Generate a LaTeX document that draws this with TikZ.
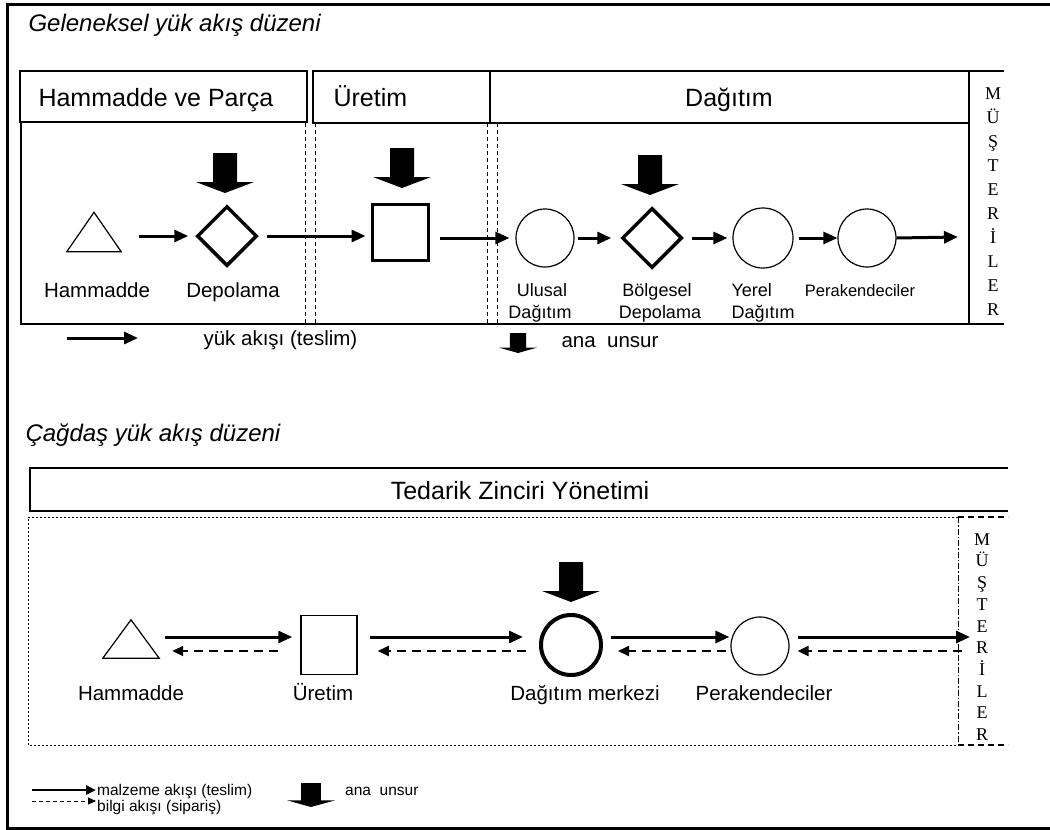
\documentclass[tikz,border=0pt]{standalone}
\usepackage{fontspec}
\setmainfont{Liberation Sans}
\newfontfamily\musfont{Liberation Serif}
\usetikzlibrary{arrows.meta,shapes.geometric}
\tikzset{
	flow/.style={line width=3pt,-{Triangle[length=14pt,width=12pt]}},
	info/.style={line width=2pt,dash pattern=on 9pt off 6pt,-{Triangle[length=11pt,width=10pt]}},
	boxline/.style={line width=1.4pt},
	sep/.style={line width=1pt,dash pattern=on 4pt off 3pt},
	tribox/.style={minimum width=54pt,minimum height=39pt,inner sep=0pt},
	depot/.style={diamond,draw,line width=3.5pt,minimum size=60pt,inner sep=0pt},
	plant/.style={rectangle,draw,minimum size=56pt,inner sep=0pt},
	stage/.style={circle,draw,line width=1.2pt,minimum size=58pt,inner sep=0pt},
	hdr/.style={font=\fontsize{25}{28}\selectfont,anchor=base},
	ttl/.style={font=\fontsize{24}{28}\selectfont\itshape,anchor=base west},
	lbl/.style={font=\fontsize{20.5}{23}\selectfont,anchor=base},
	slbl/.style={font=\fontsize{18}{22}\selectfont,anchor=base},
	leg/.style={font=\fontsize{15.5}{18}\selectfont,anchor=base west,inner sep=1pt},
	mus/.style={font=\musfont\fontsize{18}{24}\selectfont,align=center},
	pics/keyarrow/.style={code={\fill (-12,0) -- (12,0) -- (12,29) -- (29,29) -- (0,40) -- (-29,29) -- (-12,29) -- cycle ;}}
}
\begin{document}
\begin{tikzpicture}[x=1pt,y=-1pt]
	\useasboundingbox (0,0) rectangle (1050,830) ;
	\draw[line width=3pt] (1050,4) -- (7,4) -- (7,828) -- (1050,828) ;

	% geleneksel
	\node (geltitle)[ttl] at (25,31) {Geleneksel yük akış düzeni} ;
	\draw[boxline] (20,71) rectangle (307,122) ;
	\draw[boxline] (313,71) rectangle (969,123) ;
	\draw[boxline] (490,71) -- (490,123) ;
	\draw[boxline] (21,122) -- (21,324) -- (1004,324) ;
	\draw[boxline] (969,71) -- (1004,71) ;
	\draw[boxline] (969,123) -- (969,324) ;
	\foreach \xx in {305,315,487,497}
		\draw[sep] (\xx,123) -- (\xx,324) ;
	\node (hham)[hdr,anchor=base west] at (35,106) {Hammadde ve Parça} ;
	\node (hure)[hdr,anchor=base west] at (330,106) {Üretim} ;
	\node (hdag)[hdr] at (729,106) {Dağıtım} ;
	\node (mus1)[mus] at (993,202) {M\\Ü\\Ş\\T\\E\\R\\İ\\L\\E\\R} ;

	\node (tri1)[tribox] at (94,232) {} ;
	\draw[line width=1.2pt] (tri1.north) -- (tri1.south east) -- (tri1.south west) -- cycle ;
	\node (dep1)[depot] at (227,236) {} ;
	\node (ure1)[plant,line width=3pt] at (400,232) {} ;
	\node (ulu)[stage] at (545,238) {} ;
	\node (bol)[depot] at (652,238) {} ;
	\node (yer)[stage,minimum size=60pt] at (763,238) {} ;
	\node (per1)[stage] at (867,238) {} ;
	\coordinate (cust1) at (958,237) ;

	\pic at (225,153) {keyarrow} ;
	\pic at (402,148) {keyarrow} ;
	\pic at (650,155) {keyarrow} ;

	\draw[flow,shorten <=18pt,shorten >=7pt] (tri1.east |- dep1.west) -- (dep1.west) ;
	\draw[flow,shorten <=8pt,shorten >=5pt] (dep1.east) -- (dep1.east -| ure1.west) ;
	\draw[flow,shorten <=10pt,shorten >=6pt] (ure1.east |- ulu.west) -- (ulu.west) ;
	\draw[flow,shorten <=3pt,shorten >=9pt] (ulu.east) -- (bol.west) ;
	\draw[flow,shorten <=8pt,shorten >=5pt] (bol.east) -- (yer.west) ;
	\draw[flow,shorten <=5pt] (yer.east) -- (per1.west) ;
	\draw[flow] (per1.east) -- (cust1) ;

	\node (lham1)[lbl] at (97,297) {Hammadde} ;
	\node (ldep1)[lbl] at (233,297) {Depolama} ;
	\node (lulu1)[slbl] at (542,296) {Ulusal} ;
	\node (lulu2)[slbl] at (540,318) {Dağıtım} ;
	\node (lbol1)[slbl] at (657,296) {Bölgesel} ;
	\node (lbol2)[slbl] at (660,318) {Depolama} ;
	\node (lyer1)[slbl,anchor=base west] at (728,296) {Yerel} ;
	\node (lyer2)[slbl,anchor=base west] at (728,318) {Dağıtım} ;
	\node (lper1)[font=\fontsize{16.5}{20}\selectfont,anchor=base] at (860,296) {Perakendeciler} ;

	\coordinate (lg1a) at (67,338) ;
	\coordinate (lg1b) at (138,338) ;
	\draw[flow] (lg1a) -- (lg1b) ;
	\node (lgt1)[lbl,anchor=base west] at (200,345) {yük akışı (teslim)} ;
	\pic[xscale=0.67,yscale=0.5] at (518,333) {keyarrow} ;
	\node (lgk1)[lbl,anchor=base west] at (558,347) {ana~~unsur} ;

	% cagdas
	\node (cagtitle)[ttl] at (22,441) {Çağdaş yük akış düzeni} ;
	\draw[boxline] (1008,468) -- (30,468) -- (30,511) -- (1008,511) ;
	\node (tzy)[hdr] at (520,499) {Tedarik Zinciri Yönetimi} ;
	\draw[line width=0.9pt,dash pattern=on 2pt off 2pt] (958,517) -- (28,517) -- (28,745) -- (958,745) ;
	\draw[line width=1pt,dash pattern=on 6pt off 2pt on 1.5pt off 2pt] (958,517) -- (958,745) ;
	\draw[line width=1.2pt,dash pattern=on 6pt off 4pt] (958,517) -- (1008,517) (958,745) -- (1008,745) ;
	\node (mus2)[mus,font=\musfont\fontsize{18}{21.7}\selectfont] at (982,637) {M\\Ü\\Ş\\T\\E\\R\\İ\\L\\E\\R} ;

	\node (tri2)[tribox,minimum width=56pt,minimum height=38pt] at (131,639) {} ;
	\draw[line width=1.2pt] (tri2.north) -- (tri2.south east) -- (tri2.south west) -- cycle ;
	\node (ure2)[plant,line width=1.5pt,minimum height=59pt] at (329,645) {} ;
	\node (dm)[stage,line width=4pt,minimum size=60pt] at (571,645) {} ;
	\node (per2)[stage] at (760,646) {} ;
	\coordinate (cust2a) at (970,637) ;
	\coordinate (cust2b) at (962,651) ;

	\pic at (571,562) {keyarrow} ;

	\draw[flow,shorten <=6pt,shorten >=8pt] ([yshift=2pt]tri2.east) -- ([yshift=8pt]ure2.west) ;
	\draw[info,shorten <=22pt,shorten >=13pt] ([yshift=-6pt]ure2.west) -- ([yshift=-12pt]tri2.east) ;
	\draw[flow,shorten <=12pt,shorten >=16pt] ([yshift=8pt]ure2.east) -- ([yshift=8pt]dm.west) ;
	\draw[info,shorten <=13pt,shorten >=20pt] ([yshift=-6pt]dm.west) -- ([yshift=-6pt]ure2.east) ;
	\draw[flow,shorten <=8pt,shorten >=1pt] ([yshift=8pt]dm.east) -- ([yshift=9pt]per2.west) ;
	\draw[info,shorten <=4pt,shorten >=15pt] ([yshift=-5pt]per2.west) -- ([yshift=-6pt]dm.east) ;
	\draw[flow,shorten <=8pt] ([yshift=9pt]per2.east) -- (cust2a) ;
	\draw[info,shorten >=8pt] (cust2b) -- ([yshift=-5pt]per2.east) ;

	\node (lham2)[lbl] at (131,700) {Hammadde} ;
	\node (lure2)[lbl] at (323,700) {Üretim} ;
	\node (ldm)[lbl] at (585,700) {Dağıtım merkezi} ;
	\node (lper2)[lbl] at (764,700) {Perakendeciler} ;

	\coordinate (lg2a) at (32,790) ;
	\coordinate (lg2b) at (96,790) ;
	\coordinate (lg3a) at (32,801) ;
	\coordinate (lg3b) at (96,801) ;
	\draw[line width=2.5pt,-{Triangle[length=10pt,width=9pt]}] (lg2a) -- (lg2b) ;
	\draw[line width=1pt,dash pattern=on 4pt off 3pt,-{Triangle[length=8pt,width=7pt]}] (lg3a) -- (lg3b) ;
	\node (lgt2)[leg] at (96,795.5) {malzeme akışı (teslim)} ;
	\node (lgt3)[leg] at (96,811.5) {bilgi akışı (sipariş)} ;
	\pic[xscale=0.82,yscale=0.6] at (311,783) {keyarrow} ;
	\node (lgk2)[leg] at (344,795.5) {ana~~unsur} ;
\end{tikzpicture}
\end{document}
